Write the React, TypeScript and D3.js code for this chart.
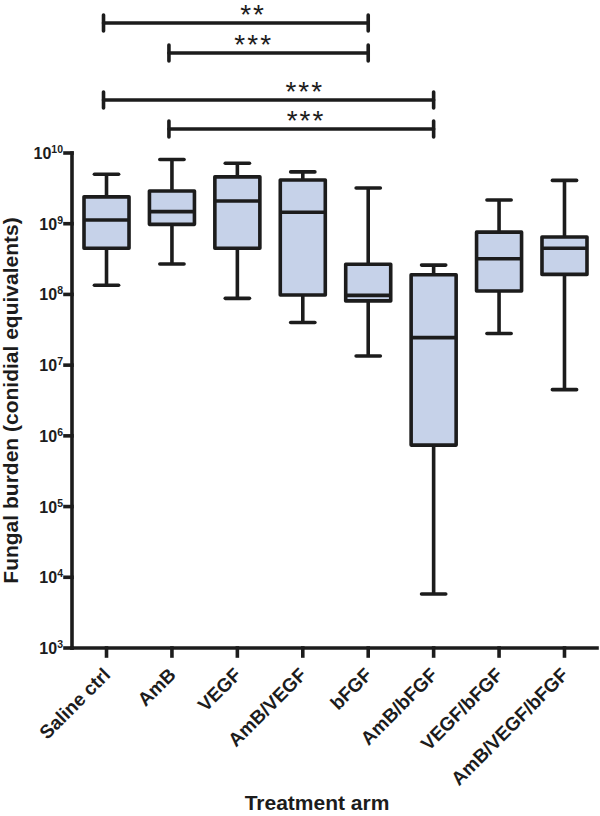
import React from "react";
import * as d3 from "d3";

const categories = [
  "Saline ctrl",
  "AmB",
  "VEGF",
  "AmB/VEGF",
  "bFGF",
  "AmB/bFGF",
  "VEGF/bFGF",
  "AmB/VEGF/bFGF",
];
const whiskerLow = [1.35e8, 2.7e8, 8.8e7, 4.0e7, 1.35e7, 5.8e3, 2.8e7, 4.5e6];
const quartile1 = [4.5e8, 9.8e8, 4.5e8, 9.8e7, 8.1e7, 7.4e5, 1.12e8, 1.92e8];
const medians = [1.13e9, 1.48e9, 2.1e9, 1.45e9, 9.7e7, 2.45e7, 3.2e8, 4.5e8];
const quartile3 = [2.4e9, 2.9e9, 4.6e9, 4.15e9, 2.67e8, 1.9e8, 7.6e8, 6.5e8];
const whiskerHigh = [5e9, 8.1e9, 7.15e9, 5.4e9, 3.2e9, 2.6e8, 2.16e9, 4.1e9];

const sigFrom = [0, 1, 0, 1];
const sigTo = [4, 4, 5, 5];
const sigLabels = ["**", "***", "***", "***"];
const sigLabelAt = [2.24, 2.25, 3.03, 3.05];

const yTickExponents = [3, 4, 5, 6, 7, 8, 9, 10];

const FONT = "'Liberation Sans', Arial, Helvetica, sans-serif";
const INK = "#1c1c1c";
const FILL = "#c6d2e9";

export default function App() {
  const W = 600;
  const H = 816;
  const x = d3.scaleBand<string>().domain(categories).range([73.8, 597.2]).padding(0);
  const cx = (i: number) => (x(categories[i]) as number) + x.bandwidth() / 2;
  const xIdx = d3
    .scaleLinear()
    .domain([0, categories.length - 1])
    .range([cx(0), cx(categories.length - 1)]);
  const y = d3.scaleLog().domain([1e3, 1e10]).range([648, 153]);

  const boxW = x.bandwidth() * 0.688;
  const capW = x.bandwidth() * 0.37;
  const sw = 3.6;
  const axisLeft = 72;
  const axisBottom = y(1e3);
  const sigY = [23, 53, 100, 129];

  return (
    <svg
      width={W}
      height={H}
      style={{ position: "absolute", left: 0, top: 0, background: "#fff" }}
      fontFamily={FONT}
    >
      {/* boxes */}
      {categories.map((c, i) => {
        const mx = cx(i);
        return (
          <g key={c} stroke={INK} strokeWidth={sw} fill="none">
            <line x1={mx} x2={mx} y1={y(whiskerHigh[i])} y2={y(quartile3[i])} />
            <line x1={mx} x2={mx} y1={y(quartile1[i])} y2={y(whiskerLow[i])} />
            <line x1={mx - capW / 2} x2={mx + capW / 2} y1={y(whiskerHigh[i])} y2={y(whiskerHigh[i])} strokeLinecap="round" />
            <line x1={mx - capW / 2} x2={mx + capW / 2} y1={y(whiskerLow[i])} y2={y(whiskerLow[i])} strokeLinecap="round" />
            <rect
              x={mx - boxW / 2}
              y={y(quartile3[i])}
              width={boxW}
              height={y(quartile1[i]) - y(quartile3[i])}
              fill={FILL}
              strokeLinejoin="round"
            />
            <line x1={mx - boxW / 2} x2={mx + boxW / 2} y1={y(medians[i])} y2={y(medians[i])} />
          </g>
        );
      })}

      {/* y axis */}
      <g stroke={INK} strokeWidth={sw} strokeLinecap="square">
        <line x1={axisLeft} x2={axisLeft} y1={y(1e10)} y2={axisBottom} />
        {yTickExponents.map((e) => (
          <line key={e} x1={axisLeft - 7} x2={axisLeft} y1={y(Math.pow(10, e))} y2={y(Math.pow(10, e))} />
        ))}
      </g>
      {yTickExponents.map((e) => (
        <text
          key={e}
          x={63}
          y={y(Math.pow(10, e)) + 6}
          textAnchor="end"
          fontWeight="bold"
          fontSize={16}
          fill={INK}
        >
          10
          <tspan fontSize={10.5} dy={-6}>
            {e}
          </tspan>
        </text>
      ))}

      {/* x axis */}
      <g stroke={INK} strokeWidth={sw} strokeLinecap="square">
        <line x1={axisLeft} x2={597} y1={axisBottom} y2={axisBottom} />
        {categories.map((c, i) => (
          <line key={c} x1={cx(i)} x2={cx(i)} y1={axisBottom} y2={axisBottom + 8} />
        ))}
      </g>
      {categories.map((c, i) => (
        <text
          key={c}
          transform={`translate(${cx(i) + 5},${axisBottom + 28}) rotate(-45)`}
          textAnchor="end"
          fontWeight="bold"
          fontSize={19}
          fill={INK}
        >
          {c}
        </text>
      ))}

      {/* axis titles */}
      <text
        transform={`translate(18,${(y(1e10) + axisBottom) / 2}) rotate(-90)`}
        textAnchor="middle"
        fontWeight="bold"
        fontSize={21}
        fill={INK}
      >
        Fungal burden (conidial equivalents)
      </text>
      <text x={317} y={810} textAnchor="middle" fontWeight="bold" fontSize={21} fill={INK}>
        Treatment arm
      </text>

      {/* significance bars */}
      {sigFrom.map((a, k) => {
        const x1 = cx(a) - 3;
        const x2 = cx(sigTo[k]);
        const yy = sigY[k];
        return (
          <g key={k}>
            <g stroke={INK} strokeWidth={sw} strokeLinecap="round">
              <line x1={x1} x2={x2} y1={yy} y2={yy} />
              <line x1={x1} x2={x1} y1={yy - 8} y2={yy + 8} />
              <line x1={x2} x2={x2} y1={yy - 8} y2={yy + 8} />
            </g>
            <text
              x={xIdx(sigLabelAt[k])}
              y={yy + 1}
              textAnchor="middle"
              fontSize={28}
              letterSpacing={2}
              fill={INK}
            >
              {sigLabels[k]}
            </text>
          </g>
        );
      })}
    </svg>
  );
}
